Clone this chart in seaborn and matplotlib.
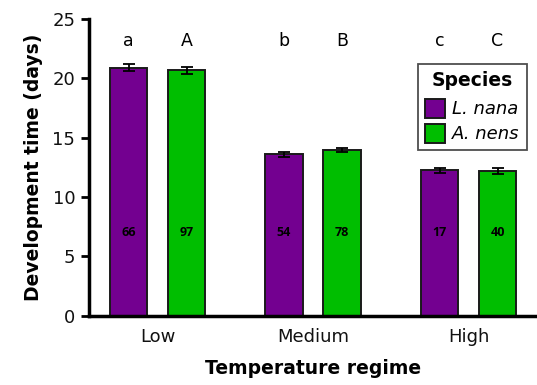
import matplotlib
matplotlib.use("Agg")
import matplotlib.pyplot as plt
import seaborn as sns
import pandas as pd

regimes = ["Low", "Medium", "High"]
species = ["L. nana", "A. nens"]
nana_means = [20.9, 13.6, 12.25]
nens_means = [20.67, 13.96, 12.2]
nana_err = [0.3, 0.22, 0.22]
nens_err = [0.28, 0.2, 0.27]
nana_n = ["66", "54", "17"]
nens_n = ["97", "78", "40"]
nana_letters = ["a", "b", "c"]
nens_letters = ["A", "B", "C"]

df = pd.DataFrame({
    "regime": regimes * 2,
    "species": [species[0]] * 3 + [species[1]] * 3,
    "time": nana_means + nens_means,
})

sns.set_style("white")
plt.rcParams["font.family"] = ["DejaVu Sans"]
plt.rcParams["text.color"] = "black"
plt.rcParams["axes.labelcolor"] = "black"
plt.rcParams["xtick.color"] = "black"
plt.rcParams["ytick.color"] = "black"

fig = plt.figure(figsize=(5.37, 3.85), dpi=100)
ax = fig.add_axes([0.166, 0.18, 0.834, 0.771])

palette = {"L. nana": "#730090", "A. nens": "#00BE00"}
sns.barplot(data=df, x="regime", y="time", hue="species", order=regimes,
            hue_order=species, palette=palette, width=0.745, gap=0.355,
            edgecolor="#1a1a1a", linewidth=1.4, errorbar=None, ax=ax, saturation=1)

errs = [nana_err, nens_err]
ns = [nana_n, nens_n]
letters = [nana_letters, nens_letters]
means = [nana_means, nens_means]
bar_conts = list(ax.containers)
for k, cont in enumerate(bar_conts):
    for i, bar in enumerate(cont.patches):
        xc = bar.get_x() + bar.get_width() / 2
        ax.errorbar(xc, means[k][i], yerr=errs[k][i], fmt="none", ecolor="black",
                    elinewidth=1.3, capsize=4, capthick=1.3, zorder=5)
        ax.text(xc, 7.0, ns[k][i], ha="center", va="center", fontsize=9,
                fontweight="bold", family=["Open Sans", "DejaVu Sans"], color="black")
        ax.text(xc, 23.1, letters[k][i], ha="center", va="center", fontsize=12.5,
                color="black")

ax.set_ylim(0, 25)
ax.set_xlim(-0.44, 2.44)
ax.set_yticks([0, 5, 10, 15, 20, 25])
ax.tick_params(axis="y", direction="out", length=6, width=2, labelsize=13, pad=4, left=True,
               labelcolor="#111111")
ax.tick_params(axis="x", length=0, labelsize=13, pad=9, labelcolor="#111111")
for s in ["top", "right"]:
    ax.spines[s].set_visible(False)
for s in ["left", "bottom"]:
    ax.spines[s].set_linewidth(2.5)
    ax.spines[s].set_color("black")

ax.set_ylabel("Development time (days)", fontsize=13.5, fontweight="bold", labelpad=7)
ax.set_xlabel("Temperature regime", fontsize=13.5, fontweight="bold", labelpad=9)

leg = ax.legend(title="Species", loc="upper right", bbox_to_anchor=(0.978, 0.848),
                borderaxespad=0, fancybox=False, frameon=True, handlelength=1.1,
                handleheight=1.25, handletextpad=0.4, fontsize=13, title_fontsize=13.5,
                borderpad=0.4, labelspacing=0.3)
leg.get_frame().set_edgecolor("#222222")
leg.get_frame().set_linewidth(1.3)
leg.get_title().set_fontweight("bold")
leg._legend_box.sep = 6
for t in leg.get_texts():
    t.set_fontstyle("italic")
for h in leg.legend_handles:
    h.set_edgecolor("#1a1a1a")
    h.set_linewidth(1.4)

fig.savefig("out.png", dpi=100)
